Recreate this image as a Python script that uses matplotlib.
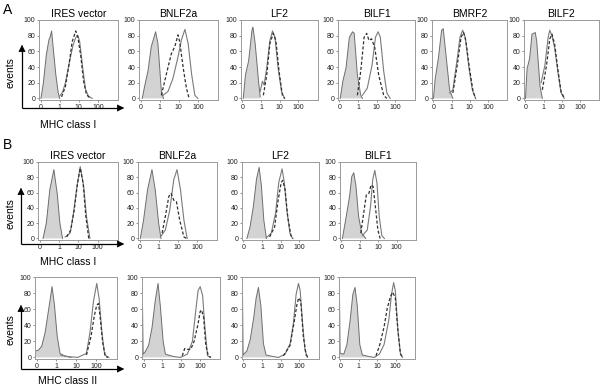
import matplotlib
matplotlib.use("Agg")
import matplotlib.pyplot as plt

plt.rcParams['font.family'] = ['Liberation Sans', 'DejaVu Sans']

# x in decades (0, 1, 10, 100 -> 0, 1, 2, 3), y = events (0-100)
DECADE_TICKS = [0, 1, 2, 3]
DECADE_LABELS = ['0', '1', '10', '100']
EVENT_TICKS = [0, 20, 40, 60, 80, 100]

# ---- panel A, MHC class I ----
A_IRES_FILL = [(0.02, 0), (0.15, 20), (0.3, 55), (0.44, 75), (0.5, 78), (0.58, 86), (0.66, 65), (0.8, 30), (0.92, 8), (1.0, 0)]
A_IRES_SOLID = [(1.0, 3), (1.15, 8), (1.3, 20), (1.5, 45), (1.7, 68), (1.85, 78), (1.96, 80), (2.05, 72), (2.2, 40), (2.35, 12), (2.5, 3), (2.7, 0)]
A_IRES_DASH = [(1.1, 2), (1.3, 15), (1.5, 45), (1.65, 72), (1.84, 86), (1.95, 78), (2.1, 55), (2.25, 22), (2.4, 5), (2.6, 0)]

A_BNLF2A_FILL = [(0.09, 0), (0.21, 15), (0.39, 35), (0.56, 66), (0.79, 85), (0.91, 70), (1.09, 9), (1.2, 0)]
A_BNLF2A_SOLID = [(1.18, 4), (1.44, 9), (1.7, 26), (1.96, 53), (2.14, 75), (2.32, 88), (2.49, 70), (2.67, 31), (2.84, 4), (3.0, 0)]
A_BNLF2A_DASH = [(1.09, 4), (1.35, 31), (1.61, 57), (1.79, 66), (1.96, 81), (2.05, 72), (2.23, 39), (2.4, 13), (2.54, 0)]

A_LF2_FILL = [(0.04, 0), (0.16, 30), (0.33, 48), (0.51, 87), (0.56, 91), (0.68, 70), (0.86, 22), (0.95, 2)]
A_LF2_SOLID = [(0.95, 9), (1.07, 22), (1.16, 17), (1.3, 39), (1.47, 74), (1.61, 86), (1.74, 78), (1.91, 39), (2.09, 9), (2.26, 0)]
A_LF2_DASH = [(1.12, 4), (1.3, 30), (1.47, 70), (1.65, 83), (1.79, 74), (1.96, 35), (2.14, 4), (2.26, 0)]

A_BILF1_FILL = [(0.04, 0), (0.18, 22), (0.35, 39), (0.53, 78), (0.7, 85), (0.79, 83), (0.96, 30), (1.14, 4), (1.23, 0)]
A_BILF1_SOLID = [(1.23, 4), (1.49, 13), (1.75, 43), (1.93, 78), (2.07, 85), (2.19, 78), (2.37, 35), (2.54, 7), (2.72, 0)]
A_BILF1_DASH = [(0.96, 4), (1.14, 35), (1.32, 78), (1.46, 83), (1.58, 74), (1.72, 76), (1.89, 65), (2.1, 30), (2.37, 4), (2.54, 0)]

A_BMRF2_FILL = [(0.0, 0), (0.09, 24), (0.27, 51), (0.45, 87), (0.54, 89), (0.71, 51), (0.89, 11), (1.07, 0)]
A_BMRF2_SOLID = [(0.89, 7), (1.07, 11), (1.34, 56), (1.46, 78), (1.61, 87), (1.75, 78), (1.96, 38), (2.14, 11), (2.32, 0)]
A_BMRF2_DASH = [(1.07, 7), (1.34, 47), (1.52, 78), (1.66, 84), (1.79, 73), (1.96, 42), (2.18, 9), (2.32, 0)]

A_BILF2_FILL = [(0.0, 0), (0.09, 38), (0.23, 51), (0.36, 82), (0.54, 84), (0.62, 73), (0.8, 16), (0.93, 0)]
A_BILF2_SOLID = [(0.86, 20), (1.07, 42), (1.25, 78), (1.34, 87), (1.48, 78), (1.61, 64), (1.79, 33), (1.96, 7), (2.14, 0)]
A_BILF2_DASH = [(0.93, 11), (1.16, 42), (1.34, 76), (1.46, 82), (1.61, 69), (1.79, 36), (1.96, 9), (2.14, 0)]

# ---- panel B, MHC class I ----
B1_IRES_FILL = [(0.18, 0), (0.35, 20), (0.53, 64), (0.74, 90), (0.91, 59), (1.05, 20), (1.19, 0)]
B1_IRES_SOLID = [(1.32, 2), (1.58, 7), (1.75, 33), (1.93, 68), (2.1, 94), (2.28, 68), (2.42, 29), (2.6, 0)]
B1_IRES_DASH = [(1.4, 2), (1.61, 11), (1.79, 37), (1.96, 72), (2.1, 92), (2.25, 72), (2.39, 29), (2.54, 0)]

B1_BNLF2A_FILL = [(0.04, 0), (0.21, 24), (0.42, 64), (0.65, 90), (0.82, 64), (1.0, 20), (1.12, 0)]
B1_BNLF2A_SOLID = [(1.09, 2), (1.35, 11), (1.58, 37), (1.79, 77), (1.96, 90), (2.14, 64), (2.32, 24), (2.49, 0)]
B1_BNLF2A_DASH = [(1.18, 7), (1.35, 29), (1.53, 55), (1.65, 59), (1.79, 50), (1.93, 48), (2.1, 24), (2.32, 2), (2.46, 0)]

B1_LF2_FILL = [(0.18, 0), (0.35, 15), (0.53, 42), (0.7, 78), (0.84, 93), (0.96, 69), (1.09, 24), (1.23, 0)]
B1_LF2_SOLID = [(1.23, 1), (1.49, 7), (1.72, 33), (1.89, 73), (2.07, 91), (2.19, 73), (2.32, 38), (2.49, 7), (2.63, 0)]
B1_LF2_DASH = [(1.4, 2), (1.67, 15), (1.84, 47), (2.02, 73), (2.1, 76), (2.23, 64), (2.37, 29), (2.54, 4), (2.67, 0)]

B1_BILF1_FILL = [(0.05, 0), (0.26, 29), (0.44, 55), (0.56, 81), (0.67, 86), (0.79, 68), (0.93, 29), (1.1, 7), (1.32, 0)]
B1_BILF1_SOLID = [(1.14, 4), (1.4, 11), (1.58, 42), (1.7, 77), (1.81, 89), (1.93, 72), (2.05, 29), (2.19, 4), (2.33, 0)]
B1_BILF1_DASH = [(1.05, 7), (1.23, 37), (1.35, 57), (1.49, 59), (1.61, 70), (1.72, 68), (1.84, 42), (1.98, 11), (2.1, 0)]

# ---- panel B, MHC class II ----
B2_IRES_FILL = [(-0.05, 8), (0.09, 9), (0.26, 14), (0.43, 31), (0.61, 60), (0.78, 88), (0.9, 65), (1.04, 26), (1.18, 5), (1.39, 2), (1.73, 0)]
B2_IRES_SOLID = [(1.21, 3), (1.56, 1), (2.08, 0), (2.51, 5), (2.69, 31), (2.86, 69), (3.03, 92), (3.15, 73), (3.29, 31), (3.43, 3), (3.64, 0)]
B2_IRES_DASH = [(2.51, 3), (2.74, 26), (2.91, 52), (3.03, 65), (3.12, 67), (3.21, 48), (3.33, 18), (3.47, 1), (3.6, 0)]

B2_BNLF2A_FILL = [(-0.05, 62), (-0.02, 4), (0.09, 7), (0.27, 15), (0.45, 37), (0.63, 72), (0.77, 92), (0.89, 64), (1.04, 20), (1.16, 4), (1.61, 1), (1.96, 0)]
B2_BNLF2A_SOLID = [(1.96, 0), (2.32, 4), (2.59, 20), (2.77, 59), (2.89, 83), (3.0, 88), (3.13, 77), (3.25, 37), (3.39, 2), (3.54, 0)]
B2_BNLF2A_DASH = [(2.05, 2), (2.18, 11), (2.32, 10), (2.5, 10), (2.68, 20), (2.89, 42), (3.0, 57), (3.07, 59), (3.18, 50), (3.3, 15), (3.43, 2), (3.57, 0)]

B2_LF2_FILL = [(-0.05, 74), (-0.02, 3), (0.18, 8), (0.36, 22), (0.54, 48), (0.68, 74), (0.8, 87), (0.93, 65), (1.07, 17), (1.21, 3), (1.6, 1), (1.88, 0)]
B2_LF2_SOLID = [(1.88, 0), (2.23, 4), (2.5, 17), (2.68, 43), (2.82, 78), (2.95, 92), (3.04, 83), (3.18, 39), (3.3, 9), (3.43, 0)]
B2_LF2_DASH = [(2.14, 2), (2.5, 15), (2.71, 43), (2.86, 65), (2.96, 74), (3.07, 70), (3.21, 26), (3.36, 3), (3.48, 0)]

B2_BILF1_FILL = [(-0.05, 72), (-0.02, 5), (0.18, 4), (0.35, 16), (0.53, 47), (0.67, 78), (0.79, 87), (0.91, 65), (1.05, 16), (1.19, 3), (1.58, 1), (1.84, 0)]
B2_BILF1_SOLID = [(1.84, 0), (2.11, 4), (2.37, 16), (2.63, 47), (2.77, 78), (2.89, 93), (2.98, 83), (3.12, 34), (3.25, 6), (3.37, 0)]
B2_BILF1_DASH = [(1.93, 2), (2.14, 16), (2.37, 38), (2.54, 61), (2.72, 76), (2.84, 81), (2.98, 74), (3.12, 34), (3.26, 4), (3.37, 0)]

W, H = 600, 386
fig = plt.figure(figsize=(6.0, 3.86), dpi=100)

# (title, box left px, box right px, box top px, box bottom px, curves)
panels = [
    ('IRES vector', 39, 118, 20, 100, A_IRES_FILL, A_IRES_SOLID, A_IRES_DASH),
    ('BNLF2a', 139, 218, 20, 100, A_BNLF2A_FILL, A_BNLF2A_SOLID, A_BNLF2A_DASH),
    ('LF2', 241, 318, 20, 100, A_LF2_FILL, A_LF2_SOLID, A_LF2_DASH),
    ('BILF1', 338, 415, 20, 100, A_BILF1_FILL, A_BILF1_SOLID, A_BILF1_DASH),
    ('BMRF2', 432, 507, 20, 100, A_BMRF2_FILL, A_BMRF2_SOLID, A_BMRF2_DASH),
    ('BILF2', 524, 599, 20, 100, A_BILF2_FILL, A_BILF2_SOLID, A_BILF2_DASH),
    ('IRES vector', 38, 118, 162, 240, B1_IRES_FILL, B1_IRES_SOLID, B1_IRES_DASH),
    ('BNLF2a', 138, 217, 162, 240, B1_BNLF2A_FILL, B1_BNLF2A_SOLID, B1_BNLF2A_DASH),
    ('LF2', 242, 319, 162, 240, B1_LF2_FILL, B1_LF2_SOLID, B1_LF2_DASH),
    ('BILF1', 340, 416, 162, 240, B1_BILF1_FILL, B1_BILF1_SOLID, B1_BILF1_DASH),
    ('', 35, 117, 277, 359, B2_IRES_FILL, B2_IRES_SOLID, B2_IRES_DASH),
    ('', 142, 220, 277, 359, B2_BNLF2A_FILL, B2_BNLF2A_SOLID, B2_BNLF2A_DASH),
    ('', 242, 319, 277, 359, B2_LF2_FILL, B2_LF2_SOLID, B2_LF2_DASH),
    ('', 339, 415, 277, 359, B2_BILF1_FILL, B2_BILF1_SOLID, B2_BILF1_DASH),
]

for title, x0, x1, y0, y1, fill, solid, dash in panels:
    ax = fig.add_axes([x0 / W, 1 - y1 / H, (x1 - x0) / W, (y1 - y0) / H])
    fx, fy = zip(*fill)
    ax.fill_between(fx, fy, 0, facecolor='#d3d3d3', edgecolor='none')
    ax.plot(fx, fy, color='#6e6e6e', lw=0.7)
    sx, sy = zip(*solid)
    ax.plot(sx, sy, color='#7a7a7a', lw=0.8)
    dx, dy = zip(*dash)
    ax.plot(dx, dy, color='#303030', lw=0.9, dashes=(2.5, 1.6))
    ax.set_xlim(-0.08, 4.05)
    ax.set_ylim(-2, 100)
    ax.set_xticks(DECADE_TICKS)
    ax.set_xticklabels(DECADE_LABELS)
    ax.set_yticks(EVENT_TICKS)
    ax.tick_params(labelsize=5, length=1.5, width=0.5, pad=1.2, color='#666', labelcolor='#222')
    for sp in ax.spines.values():
        sp.set_color('#9a9a9a')
        sp.set_linewidth(0.7)
    if title:
        ax.set_title(title, fontsize=7.5, pad=2.5)

# overlay for arrows and labels, in pixel coordinates
ov = fig.add_axes([0, 0, 1, 1], facecolor='none')
ov.set_xlim(0, W)
ov.set_ylim(H, 0)
ov.axis('off')

arrow_rows = [
    # corner x, corner y, vertical tip y, horizontal tip x, events y, label y, label
    (22, 108, 42, 127, 73, 125, 'MHC class I'),
    (21, 244, 185, 127, 214, 262, 'MHC class I'),
    (21, 369, 302, 127, 330, 381, 'MHC class II'),
]
for cx, cy, vy, hx, ey, ly, lab in arrow_rows:
    ov.plot([cx, cx], [cy, vy + 6], color='black', lw=0.9, solid_capstyle='butt')
    ov.plot([cx, hx - 6], [cy, cy], color='black', lw=0.9, solid_capstyle='butt')
    ov.annotate('', xy=(cx, vy), xytext=(cx, vy + 8),
                arrowprops=dict(arrowstyle='-|>', color='black', lw=0.5, mutation_scale=11))
    ov.annotate('', xy=(hx, cy), xytext=(hx - 8, cy),
                arrowprops=dict(arrowstyle='-|>', color='black', lw=0.5, mutation_scale=11))
    ov.text(10, ey, 'events', rotation=90, ha='center', va='center', fontsize=7.5)
    ov.text(68, ly, lab, ha='center', va='center', fontsize=7.5)

ov.text(3, 10, 'A', ha='left', va='center', fontsize=10)
ov.text(3, 145, 'B', ha='left', va='center', fontsize=10)

fig.savefig('out.png', dpi=100)
